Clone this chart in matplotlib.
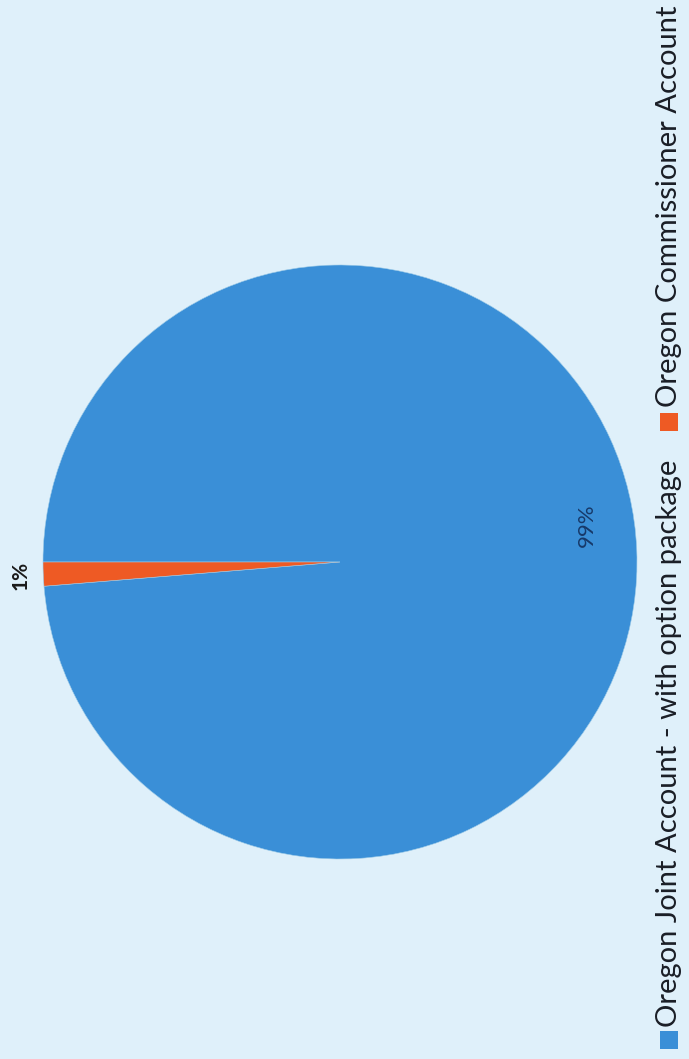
import numpy as np
import matplotlib
matplotlib.use('Agg')
import matplotlib.pyplot as plt
from matplotlib.patches import Rectangle

plt.rcParams['font.family'] = ['Lato', 'DejaVu Sans']

categories = ['Oregon Joint Account - with option package',
              'Oregon Commissioner Account']
shares = [98.7, 1.3]
pct_labels = ['99%', '1%']
colors = ['#3a8fd7', '#ee5a24']
bg = '#dff0fa'

W, H = 689, 1059
fig = plt.figure(figsize=(W / 100, H / 100), dpi=100)
fig.patch.set_facecolor(bg)

# pie centre (340, 562) px, radius 297 px
cx, cy, r = 340, 562, 297
ax = fig.add_axes([(cx - r) / W, (H - cy - r) / H, 2 * r / W, 2 * r / H])
ax.set_facecolor(bg)
wedges, _ = ax.pie(shares, colors=colors, startangle=180, counterclock=False,
                   radius=1, wedgeprops=dict(linewidth=0.4, edgecolor='#9ccbe8'))
ax.set_xlim(-1, 1)
ax.set_ylim(-1, 1)
ax.set_aspect('equal')
ax.axis('off')

# 99% label inside the big slice
a = np.deg2rad(8.5)
ax.text(0.84 * np.cos(a), 0.84 * np.sin(a), pct_labels[0], rotation=90,
        ha='center', va='center', fontsize=16, color='#173a6a')

# 1% label just outside the small slice
w = wedges[1]
mid = np.deg2rad((w.theta1 + w.theta2) / 2)
ax.text(1.075 * np.cos(mid), 1.075 * np.sin(mid), pct_labels[1], rotation=90,
        ha='center', va='center', fontsize=15, fontweight='bold', color='#1a1a1a')

# legend, rotated along the right edge
lx = 669
for name, col, sq_y, txt_y in zip(categories, colors, [1040, 422], [1027, 407]):
    fig.patches.append(Rectangle(((lx - 9) / W, (H - sq_y - 9) / H), 18 / W, 18 / H,
                                 transform=fig.transFigure, facecolor=col,
                                 edgecolor='none'))
    fig.text(lx / W, (H - txt_y) / H, name, rotation=90, rotation_mode='anchor',
             ha='left', va='center', fontsize=21, color='#1a1e26')

fig.savefig('out.png', dpi=100, facecolor=bg)
